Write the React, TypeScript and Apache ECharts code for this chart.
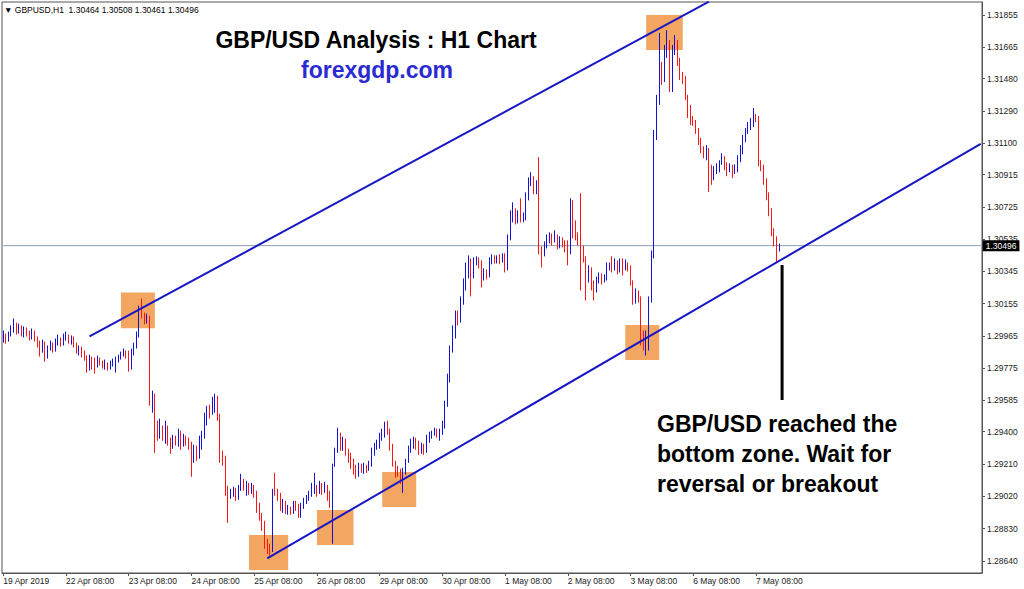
import React, { useEffect, useRef } from "react";
import * as echarts from "echarts";

// ---- data (GBPUSD H1, 19 Apr 2019 08:00 -> 7 May 2019 17:00) ----
const FIRST_OPEN = 1.29949;
const CLOSE = [
  1.29967,1.29937,1.29972,1.29996,1.30020,1.29990,1.30014,1.29978,1.30002,1.29984,1.29961,1.29990,1.29949,1.29913,1.29884,1.29919,1.29849,1.29890,1.29908,1.29878,1.29925,1.29943,1.29919,1.29955,
  1.29967,1.29937,1.29955,1.29913,1.29878,1.29896,1.29854,1.29837,1.29772,1.29831,1.29807,1.29778,1.29825,1.29807,1.29784,1.29801,1.29772,1.29795,1.29807,1.29819,1.29831,1.29849,1.29866,1.29843,
  1.29784,1.29866,1.29902,1.29967,1.30114,1.30079,1.30055,1.30067,1.29583,1.29612,1.29436,1.29406,1.29436,1.29377,1.29418,1.29347,1.29318,1.29359,1.29335,1.29394,1.29318,1.29365,1.29347,1.29329,
  1.29229,1.29288,1.29259,1.29347,1.29377,1.29465,1.29524,1.29506,1.29571,1.29595,1.29495,1.29259,1.29241,1.29052,1.29023,1.29040,1.29052,1.29011,1.29070,1.29099,1.29076,1.29087,1.29052,1.29076,
  1.29040,1.28964,1.28905,1.28846,1.28757,1.28716,1.28698,1.29052,1.29040,1.29023,1.28964,1.28981,1.28934,1.28946,1.28928,1.28969,1.28958,1.28922,1.28952,1.28981,1.29005,1.29023,1.29052,1.29076,
  1.29052,1.29087,1.29052,1.29076,1.29028,1.29005,1.29200,1.29288,1.29377,1.29318,1.29347,1.29288,1.29253,1.29217,1.29182,1.29152,1.29194,1.29170,1.29188,1.29182,1.29205,1.29276,1.29312,1.29324,
  1.29371,1.29394,1.29430,1.29406,1.29318,1.29217,1.29182,1.29158,1.29123,1.29170,1.29217,1.29288,1.29329,1.29347,1.29318,1.29288,1.29312,1.29288,1.29347,1.29371,1.29388,1.29406,1.29382,1.29394,
  1.29441,1.29559,1.29712,1.29878,1.29996,1.30090,1.30067,1.30173,1.30261,1.30350,1.30397,1.30321,1.30397,1.30409,1.30391,1.30303,1.30338,1.30321,1.30397,1.30421,1.30403,1.30421,1.30409,1.30421,
  1.30362,1.30539,1.30674,1.30692,1.30645,1.30680,1.30657,1.30669,1.30775,1.30869,1.30893,1.30822,1.30846,1.30468,1.30456,1.30497,1.30539,1.30551,1.30527,1.30539,1.30492,1.30527,1.30509,1.30468,
  1.30456,1.30734,1.30616,1.30551,1.30527,1.30468,1.30421,1.30303,1.30350,1.30261,1.30244,1.30291,1.30314,1.30291,1.30303,1.30374,1.30380,1.30362,1.30397,1.30350,1.30397,1.30350,1.30380,1.30362,
  1.30279,1.30173,1.30214,1.30185,1.29937,1.29925,1.29972,1.30173,1.30439,1.31148,1.31354,1.31531,1.31484,1.31619,1.31678,1.31425,1.31649,1.31696,1.31578,1.31502,1.31472,1.31384,1.31307,1.31248,
  1.31224,1.31177,1.31118,1.31058,1.31029,1.31058,1.30928,1.30893,1.30940,1.30952,1.30981,1.31011,1.30964,1.30940,1.30952,1.30928,1.30946,1.30999,1.31058,1.31118,1.31159,1.31195,1.31212,1.31248,
  1.31242,1.30987,1.30958,1.30881,1.30793,1.30692,1.30586,1.30527,1.30464,1.30496,
];
const HIGH = [
  1.29996,1.29978,1.29990,1.30026,1.30067,1.30043,1.30037,1.30026,1.30020,1.30014,1.29996,1.30008,1.29996,1.29961,1.29937,1.29943,1.29931,1.29908,1.29937,1.29925,1.29949,1.29972,1.29955,1.29978,
  1.29990,1.29972,1.29967,1.29961,1.29925,1.29908,1.29902,1.29878,1.29849,1.29854,1.29843,1.29837,1.29849,1.29837,1.29819,1.29825,1.29807,1.29819,1.29831,1.29843,1.29854,1.29872,1.29890,1.29878,
  1.29878,1.29890,1.29925,1.29990,1.30143,1.30185,1.30102,1.30096,1.30084,1.29642,1.29624,1.29465,1.29477,1.29436,1.29465,1.29436,1.29365,1.29382,1.29377,1.29418,1.29406,1.29388,1.29377,1.29365,
  1.29341,1.29324,1.29318,1.29377,1.29406,1.29512,1.29553,1.29559,1.29606,1.29624,1.29612,1.29506,1.29288,1.29259,1.29082,1.29064,1.29076,1.29070,1.29087,1.29152,1.29123,1.29111,1.29099,1.29099,
  1.29087,1.29052,1.28981,1.28922,1.28875,1.28769,1.28740,1.29064,1.29158,1.29064,1.29040,1.29005,1.28993,1.28969,1.28958,1.28993,1.28993,1.28975,1.28981,1.29011,1.29028,1.29052,1.29099,1.29158,
  1.29087,1.29111,1.29099,1.29105,1.29087,1.29052,1.29212,1.29306,1.29424,1.29394,1.29371,1.29359,1.29300,1.29276,1.29241,1.29205,1.29217,1.29212,1.29217,1.29205,1.29229,1.29306,1.29335,1.29353,
  1.29394,1.29418,1.29459,1.29465,1.29418,1.29329,1.29229,1.29200,1.29182,1.29188,1.29241,1.29318,1.29359,1.29371,1.29365,1.29347,1.29335,1.29329,1.29382,1.29400,1.29406,1.29424,1.29418,1.29418,
  1.29465,1.29583,1.29742,1.29908,1.30026,1.30114,1.30114,1.30197,1.30303,1.30397,1.30439,1.30421,1.30427,1.30433,1.30427,1.30409,1.30362,1.30356,1.30427,1.30445,1.30439,1.30439,1.30445,1.30451,
  1.30451,1.30562,1.30704,1.30751,1.30716,1.30704,1.30775,1.30692,1.30810,1.30898,1.30928,1.30905,1.30881,1.31017,1.30492,1.30521,1.30562,1.30574,1.30568,1.30586,1.30562,1.30551,1.30545,1.30527,
  1.30527,1.30775,1.30763,1.30645,1.30574,1.30805,1.30497,1.30433,1.30380,1.30368,1.30291,1.30314,1.30338,1.30332,1.30327,1.30397,1.30397,1.30433,1.30421,1.30409,1.30421,1.30421,1.30415,1.30397,
  1.30380,1.30291,1.30244,1.30232,1.30197,1.29996,1.29996,1.30197,1.30468,1.31177,1.31384,1.31749,1.31578,1.31678,1.31766,1.31707,1.31678,1.31737,1.31707,1.31602,1.31519,1.31495,1.31384,1.31325,
  1.31260,1.31236,1.31189,1.31130,1.31082,1.31088,1.31071,1.30972,1.30964,1.30981,1.30999,1.31040,1.31023,1.30987,1.30981,1.30972,1.30975,1.31029,1.31088,1.31148,1.31189,1.31224,1.31248,1.31307,
  1.31271,1.31260,1.30999,1.30972,1.30893,1.30810,1.30716,1.30598,1.30551,1.30508,
];
const LOW = [
  1.29925,1.29919,1.29931,1.29961,1.29984,1.29972,1.29978,1.29961,1.29955,1.29961,1.29937,1.29943,1.29931,1.29896,1.29843,1.29866,1.29813,1.29831,1.29878,1.29866,1.29872,1.29908,1.29902,1.29908,
  1.29937,1.29919,1.29913,1.29896,1.29860,1.29849,1.29837,1.29819,1.29748,1.29760,1.29766,1.29742,1.29778,1.29790,1.29772,1.29766,1.29760,1.29766,1.29784,1.29748,1.29807,1.29825,1.29843,1.29831,
  1.29754,1.29766,1.29849,1.29890,1.29955,1.30067,1.30032,1.30037,1.29553,1.29512,1.29276,1.29347,1.29359,1.29347,1.29329,1.29318,1.29270,1.29300,1.29318,1.29312,1.29294,1.29312,1.29318,1.29294,
  1.29135,1.29217,1.29229,1.29241,1.29294,1.29359,1.29436,1.29477,1.29500,1.29512,1.29465,1.29217,1.29200,1.29023,1.28863,1.29005,1.29017,1.28993,1.28999,1.29052,1.29052,1.29023,1.29028,1.29034,
  1.29011,1.28922,1.28875,1.28816,1.28710,1.28680,1.28663,1.28692,1.29023,1.28993,1.28934,1.28922,1.28916,1.28911,1.28911,1.28916,1.28934,1.28893,1.28893,1.28946,1.28975,1.28993,1.29017,1.29034,
  1.29017,1.29034,1.29028,1.29040,1.28993,1.28952,1.28740,1.29194,1.29276,1.29288,1.29288,1.29259,1.29217,1.29182,1.29147,1.29123,1.29135,1.29158,1.29152,1.29158,1.29170,1.29194,1.29259,1.29294,
  1.29300,1.29347,1.29365,1.29382,1.29288,1.29194,1.29129,1.29135,1.29093,1.29040,1.29147,1.29217,1.29276,1.29300,1.29294,1.29264,1.29270,1.29264,1.29276,1.29335,1.29359,1.29377,1.29365,1.29347,
  1.29382,1.29418,1.29547,1.29690,1.29866,1.29949,1.30026,1.30043,1.30148,1.30232,1.30303,1.30197,1.30303,1.30380,1.30362,1.30250,1.30291,1.30297,1.30309,1.30386,1.30391,1.30391,1.30386,1.30397,
  1.30338,1.30350,1.30527,1.30633,1.30621,1.30627,1.30633,1.30633,1.30645,1.30763,1.30846,1.30799,1.30799,1.30445,1.30368,1.30433,1.30480,1.30509,1.30497,1.30515,1.30474,1.30480,1.30486,1.30456,
  1.30380,1.30445,1.30539,1.30527,1.30497,1.30232,1.30397,1.30173,1.30279,1.30232,1.30173,1.30220,1.30273,1.30267,1.30279,1.30291,1.30350,1.30338,1.30350,1.30327,1.30338,1.30321,1.30350,1.30344,
  1.30261,1.30148,1.30155,1.30161,1.29908,1.29878,1.29849,1.29878,1.30161,1.30421,1.31118,1.31325,1.31443,1.31460,1.31602,1.31401,1.31401,1.31619,1.31554,1.31472,1.31448,1.31354,1.31248,1.31207,
  1.31201,1.31154,1.31088,1.31040,1.31011,1.30999,1.30812,1.30854,1.30881,1.30918,1.30928,1.30972,1.30940,1.30905,1.30928,1.30893,1.30918,1.30928,1.30987,1.31034,1.31106,1.31154,1.31177,1.31195,
  1.31224,1.30964,1.30935,1.30854,1.30763,1.30669,1.30551,1.30492,1.30397,1.30461,
];

// trading days shown on the time axis (first day starts at 08:00)
const DAYS = ["19 Apr", "22 Apr", "23 Apr", "24 Apr", "25 Apr", "26 Apr", "29 Apr", "30 Apr", "1 May", "2 May", "3 May", "6 May", "7 May", "8 May", "9 May", "10 May"];
const FIRST_HOUR = 8;
const TOTAL_SLOTS = 375; // visible slots incl. chart shift on the right

const Y_TICKS = [1.2864, 1.2883, 1.2902, 1.2921, 1.294, 1.29585, 1.29775, 1.29965, 1.30155, 1.30345, 1.30535, 1.30725, 1.30915, 1.311, 1.3129, 1.3148, 1.31665, 1.31855];
const Y_MIN = 1.28568;
const Y_MAX = 1.31931;
const LAST_PRICE = 1.30496;

// annotations (category index, price)
const ZONES = [
  [[45, 1.3022], [58, 1.3001]],
  [[246, 1.31855], [260, 1.31649]],
  [[94, 1.28792], [109, 1.28586]],
  [[120, 1.28939], [134, 1.28733]],
  [[145, 1.29163], [158, 1.28957]],
  [[238, 1.30029], [251, 1.29823]],
];
const UPPER_LINE = [[33, 1.29962], [270, 1.31933]];
const LOWER_LINE = [[101, 1.28654], [374, 1.31096]];
const POINTER_LINE = [[298, 1.30382], [298, 1.29587]];
const PRICE_LINE = [[0, LAST_PRICE], [374, LAST_PRICE]];

function buildCategories(): string[] {
  const out: string[] = [];
  for (let d = 0; d < DAYS.length && out.length < TOTAL_SLOTS; d++) {
    for (let h = d === 0 ? FIRST_HOUR : 0; h < 24 && out.length < TOTAL_SLOTS; h++) {
      const hh = (h < 10 ? "0" : "") + h + ":00";
      out.push(out.length === 0 ? DAYS[d] + " 2019" : DAYS[d] + " " + hh);
    }
  }
  return out;
}

export default function App() {
  const ref = useRef<HTMLDivElement>(null);
  useEffect(() => {
    document.body.style.margin = "0";
    if (!ref.current) return;
    const chart = echarts.init(ref.current, undefined, { renderer: "svg" });
    const categories = buildCategories();
    const n = CLOSE.length;
    const candles = CLOSE.map((c, i) => {
      const o = i === 0 ? FIRST_OPEN : CLOSE[i - 1];
      return [o, c, Math.min(LOW[i], o, c), Math.max(HIGH[i], o, c)];
    });
    const showIdx = (i: number) => i % 24 === 0 && i < n;
    const axisFont = "Liberation Sans";
    chart.setOption({
      animation: false,
      backgroundColor: "#ffffff",
      grid: { left: 2, right: 42, top: 2, bottom: 16, show: true, borderColor: "#555", borderWidth: 1, backgroundColor: "#fff" },
      xAxis: {
        type: "category",
        data: categories,
        boundaryGap: true,
        axisLine: { show: true, lineStyle: { color: "#555", width: 1 } },
        axisTick: { show: true, alignWithLabel: true, interval: showIdx, length: 3, lineStyle: { color: "#555" } },
        axisLabel: { interval: showIdx, align: "left", color: "#222", fontSize: 8.5, fontFamily: axisFont, margin: 3 },
        splitLine: { show: false },
      },
      yAxis: {
        type: "value",
        position: "right",
        min: Y_MIN,
        max: Y_MAX,
        axisLine: { show: true, lineStyle: { color: "#555", width: 1 } },
        axisTick: { show: true, length: 3, customValues: Y_TICKS, lineStyle: { color: "#555" } },
        axisLabel: { customValues: Y_TICKS, formatter: (v: number) => v.toFixed(5), color: "#222", fontSize: 8.5, fontFamily: axisFont, margin: 5 },
        splitLine: { show: false },
      },
      series: [
        {
          type: "line",
          data: [],
          z: 1,
          silent: true,
          markArea: {
            silent: true,
            itemStyle: { color: "#F3A562", opacity: 1 },
            data: ZONES.map((z) => [{ coord: z[0] }, { coord: z[1] }]),
          },
        },
        {
          type: "line",
          data: PRICE_LINE,
          z: 2,
          showSymbol: false,
          silent: true,
          lineStyle: { color: "#8f9db3", width: 1 },
          endLabel: {
            show: true,
            distance: 2,
            formatter: () => LAST_PRICE.toFixed(5),
            backgroundColor: "#000",
            color: "#fff",
            padding: [1, 3, 1, 3],
            fontSize: 8.5,
            fontFamily: axisFont,
          },
        },
        {
          type: "candlestick",
          data: candles,
          z: 3,
          barWidth: 1.2,
          itemStyle: { color: "#1212d8", borderColor: "#1212d8", color0: "#ff1414", borderColor0: "#ff1414", borderWidth: 1 },
        },
        {
          type: "line",
          data: UPPER_LINE,
          z: 5,
          showSymbol: false,
          silent: true,
          clip: true,
          lineStyle: { color: "#1616c6", width: 2 },
        },
        {
          type: "line",
          data: LOWER_LINE,
          z: 5,
          showSymbol: false,
          silent: true,
          clip: true,
          lineStyle: { color: "#1616c6", width: 2 },
        },
        {
          type: "line",
          data: POINTER_LINE,
          z: 5,
          showSymbol: false,
          silent: true,
          lineStyle: { color: "#000", width: 3 },
        },
      ],
      graphic: [
        { type: "text", x: 4, y: 10, z: 10, style: { text: "\u25BC GBPUSD,H1  1.30464 1.30508 1.30461 1.30496", fill: "#000", font: '8.5px "Liberation Sans"', verticalAlign: "middle" } },
        { type: "text", x: 376, y: 40, z: 10, style: { text: "GBP/USD Analysis : H1 Chart", fill: "#000", font: 'bold 23px "Liberation Sans"', align: "center", verticalAlign: "middle" } },
        { type: "text", x: 377, y: 70, z: 10, style: { text: "forexgdp.com", fill: "#2a2ad2", font: 'bold 23px "Liberation Sans"', align: "center", verticalAlign: "middle" } },
        { type: "text", x: 657, y: 424, z: 10, style: { text: "GBP/USD reached the", fill: "#000", font: 'bold 23px "Liberation Sans"', verticalAlign: "middle" } },
        { type: "text", x: 657, y: 454, z: 10, style: { text: "bottom zone. Wait for", fill: "#000", font: 'bold 23px "Liberation Sans"', verticalAlign: "middle" } },
        { type: "text", x: 657, y: 484, z: 10, style: { text: "reversal or breakout", fill: "#000", font: 'bold 23px "Liberation Sans"', verticalAlign: "middle" } },
      ],
    });
    return () => chart.dispose();
  }, []);
  return <div ref={ref} style={{ position: "absolute", left: 0, top: 0, width: 1024, height: 589 }} />;
}
